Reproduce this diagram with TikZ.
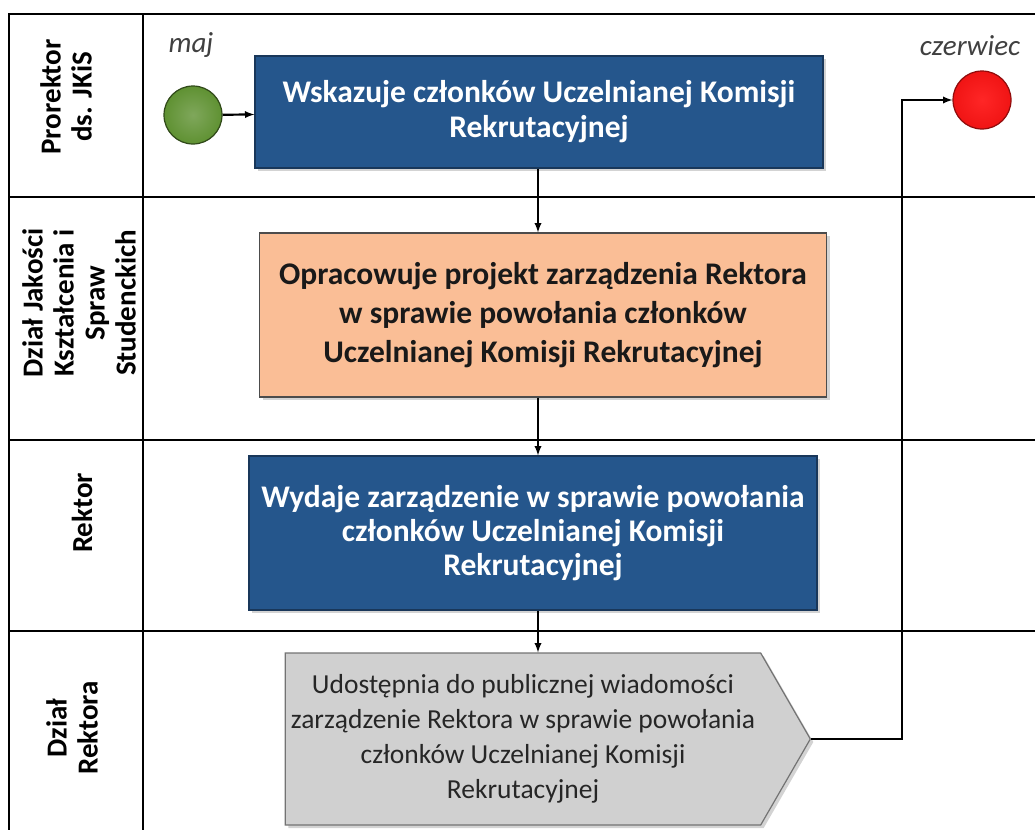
\documentclass[tikz,border=0pt]{standalone}
\usepackage{fontspec}
\setmainfont{Carlito}
\usetikzlibrary{shapes.symbols,shadows,calc}
\definecolor{taskblue}{RGB}{37,86,140}
\definecolor{taskblueline}{RGB}{25,55,90}
\definecolor{taskpeach}{RGB}{250,190,150}
\definecolor{taskgray}{RGB}{208,208,208}
\definecolor{startgreen}{RGB}{95,145,50}
\definecolor{endred}{RGB}{240,20,20}
\tikzset{>=latex}
\tikzset{
  lane/.style={rotate=90,align=center,font=\bfseries\fontsize{29}{31}\selectfont},
  task/.style={draw,line width=1.2pt,align=center,inner sep=0pt,
    drop shadow={opacity=0.35,shadow xshift=3pt,shadow yshift=-3pt}},
  event/.style={circle,draw,line width=1.2pt,minimum width=58pt,minimum height=55pt,inner sep=0pt},
  month/.style={font=\itshape\fontsize{29}{31}\selectfont,text=black!75},
  flow/.style={->,line width=2.2pt}
}

\begin{document}
\begin{tikzpicture}[x=1pt,y=-1pt]
  \useasboundingbox (0,0) rectangle (1035,830);
  % lanes
  \draw[line width=1.2pt] (1035,14) -- (9,14) -- (9,830);
  \draw[line width=1.2pt] (143,14) -- (143,830);
  \foreach \Y in {197,440,631} { \draw[line width=1.2pt] (9,\Y) -- (1035,\Y); };
  \node[lane] (l1) at (66,97) {Prorektor\\ds. JKiS};
  \node[lane] (l2) at (79,303) {Dział Jakości\\Kształcenia i\\Spraw\\Studenckich};
  \node[lane] (l3) at (82,513) {Rektor};
  \node[lane] (l4) at (72,728) {Dział\\Rektora};
  % events
  \node[event,draw=startgreen!50!black,inner color=startgreen!80!white,outer color=startgreen] (start) at (193,115) {};
  \node[month] (m1) at (191,45) {maj};
  \node[event,draw=endred!60!black,inner color=red!85!white,outer color=endred] (end) at (982,100) {};
  \node[month] (m2) at (970,46) {czerwiec};
  % tasks
  \node[task,fill=taskblue,draw=taskblueline,text=white,minimum width=568pt,minimum height=112pt,
    font=\bfseries\fontsize{31.5}{35}\selectfont] (t1) at (539,112)
    {Wskazuje członków Uczelnianej Komisji\\Rekrutacyjnej};
  \node[task,fill=taskpeach,draw=black!70,text=black!90,minimum width=567pt,minimum height=164pt,
    font=\bfseries\fontsize{31.5}{39}\selectfont] (t2) at (543,315)
    {Opracowuje projekt zarządzenia Rektora\\w sprawie powołania członków\\Uczelnianej Komisji Rekrutacyjnej};
  \node[task,fill=taskblue,draw=taskblueline,text=white,minimum width=568pt,minimum height=154pt,
    font=\bfseries\fontsize{31.5}{34}\selectfont] (t3) at (533,533)
    {Wydaje zarządzenie w sprawie powołania\\członków Uczelnianej Komisji\\Rekrutacyjnej};
  \node[task,signal,signal to=east,signal pointer angle=120,fill=taskgray,draw=black!55,text=black!85,
    minimum width=525pt,minimum height=172pt,font=\fontsize{27.5}{35}\selectfont] (t4) at (523,739)
    {Udostępnia do publicznej wiadomości\\zarządzenie Rektora w sprawie powołania\\członków Uczelnianej Komisji\\Rekrutacyjnej};
  % flows
  \coordinate (turn) at (902,100);
  \draw[flow] (start) -- (t1);
  \draw[flow] (t1.south -| 538,0) -- (t2.north -| 538,0);
  \draw[flow] (t2.south -| 538,0) -- (t3.north -| 538,0);
  \draw[flow] (t3.south -| 538,0) -- (t4.north -| 538,0);
  \draw[flow] (t4.east) -| (turn) -- (end);
\end{tikzpicture}
\end{document}
